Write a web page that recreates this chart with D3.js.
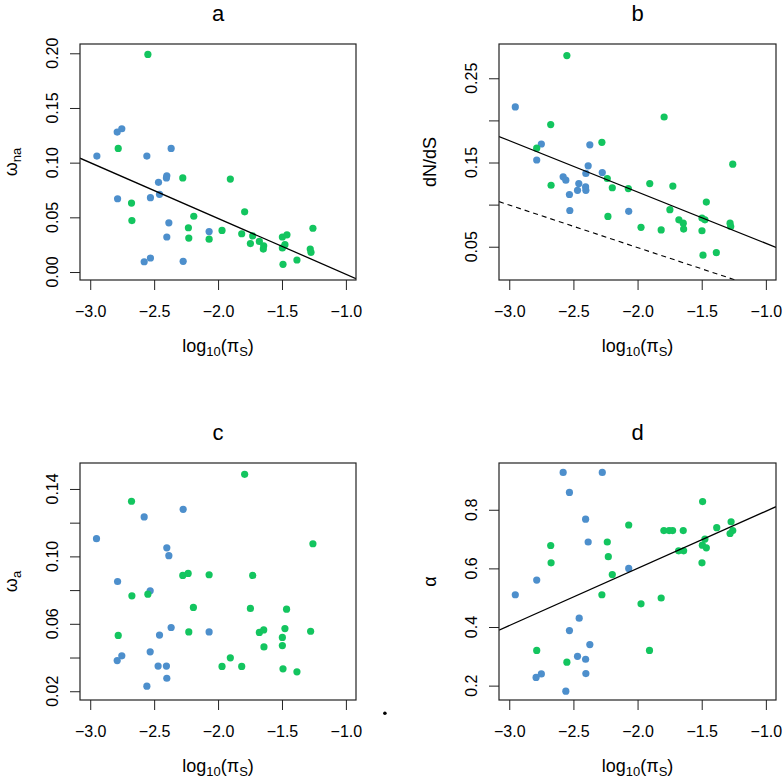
<!DOCTYPE html>
<html>
<head>
  <style>
    body { margin: 0; background: #fff; }
    text { font-family: "Liberation Sans", Arial, Helvetica, sans-serif; fill: #000; }
  </style>
</head>
<body>
  <svg id="chart" width="784" height="778"></svg>
  <script src="https://d3js.org/d3.v7.min.js"></script>
  <script>
    // values: [log10(piS), y]
    const aBlue = [[-2.948,0.106],[-2.789,0.128],[-2.753,0.131],[-2.557,0.106],[-2.786,0.067],[-2.529,0.068],
      [-2.466,0.082],[-2.458,0.071],[-2.401,0.088],[-2.404,0.086],[-2.367,0.113],[-2.385,0.045],[-2.401,0.032],
      [-2.578,0.0094],[-2.529,0.0128],[-2.273,0.0098],[-2.070,0.037]];
    const aGreen = [[-2.549,0.199],[-2.781,0.113],[-2.677,0.063],[-2.674,0.047],[-2.276,0.086],[-1.904,0.085],
      [-2.190,0.051],[-2.232,0.0405],[-2.229,0.031],[-2.070,0.030],[-1.969,0.038],[-1.792,0.055],[-1.815,0.035],
      [-1.747,0.026],[-1.729,0.033],[-1.677,0.028],[-1.643,0.024],[-1.646,0.021],[-1.497,0.032],[-1.461,0.034],
      [-1.477,0.025],[-1.497,0.022],[-1.492,0.007],[-1.383,0.011],[-1.258,0.040],[-1.279,0.021],[-1.273,0.018]];

    const bBlue = [[-2.953,0.216],[-2.750,0.172],[-2.786,0.153],[-2.580,0.133],[-2.559,0.129],[-2.531,0.112],
      [-2.528,0.093],[-2.458,0.125],[-2.468,0.117],[-2.405,0.121],[-2.403,0.117],[-2.403,0.137],[-2.385,0.146],
      [-2.372,0.171],[-2.275,0.138],[-2.069,0.092]];
    const bGreen = [[-2.551,0.277],[-2.677,0.195],[-2.786,0.167],[-2.674,0.123],[-2.278,0.174],[-2.236,0.131],
      [-2.197,0.120],[-2.231,0.086],[-2.072,0.119],[-1.905,0.125],[-1.793,0.204],[-1.725,0.122],[-1.973,0.073],
      [-1.816,0.070],[-1.748,0.094],[-1.678,0.082],[-1.644,0.078],[-1.641,0.071],[-1.498,0.084],[-1.475,0.082],
      [-1.464,0.103],[-1.498,0.069],[-1.490,0.040],[-1.386,0.043],[-1.258,0.148],[-1.279,0.078],[-1.274,0.074]];

    const cBlue = [[-2.951,0.1105],[-2.578,0.1234],[-2.273,0.1279],[-2.401,0.1051],[-2.385,0.1004],[-2.786,0.0851],
      [-2.531,0.0796],[-2.367,0.0578],[-2.458,0.0533],[-2.070,0.0552],[-2.753,0.041],[-2.789,0.0382],[-2.531,0.0434],
      [-2.469,0.0349],[-2.404,0.0349],[-2.401,0.0277],[-2.557,0.023]];
    const cGreen = [[-1.792,0.1487],[-2.677,0.1327],[-1.258,0.1075],[-2.276,0.0887],[-2.234,0.0899],[-2.070,0.0891],
      [-1.729,0.0887],[-2.674,0.0766],[-2.549,0.0776],[-2.193,0.0697],[-1.747,0.0691],[-1.464,0.0687],[-2.229,0.0552],
      [-1.677,0.0549],[-1.643,0.0564],[-1.477,0.0572],[-1.276,0.0556],[-2.781,0.0531],[-1.497,0.0519],[-1.497,0.0471],
      [-1.641,0.0463],[-1.904,0.0398],[-1.969,0.0347],[-1.815,0.0347],[-1.492,0.0333],[-1.383,0.0315]];

    const dBlue = [[-2.580,0.9275],[-2.275,0.9275],[-2.531,0.859],[-2.405,0.768],[-2.385,0.690],[-2.069,0.600],
      [-2.786,0.560],[-2.953,0.510],[-2.455,0.430],[-2.531,0.388],[-2.372,0.340],[-2.468,0.300],[-2.405,0.290],
      [-2.403,0.241],[-2.750,0.240],[-2.791,0.228],[-2.559,0.181]];
    const dGreen = [[-1.493,0.828],[-2.069,0.748],[-1.795,0.729],[-1.754,0.729],[-1.727,0.729],[-1.644,0.729],
      [-1.383,0.739],[-1.271,0.759],[-1.258,0.729],[-1.279,0.719],[-2.677,0.678],[-2.236,0.690],[-2.228,0.640],
      [-2.197,0.579],[-2.674,0.619],[-1.680,0.660],[-1.641,0.660],[-1.495,0.679],[-1.475,0.700],[-1.464,0.670],
      [-1.498,0.619],[-2.278,0.510],[-1.973,0.479],[-1.816,0.499],[-2.786,0.320],[-1.907,0.320],[-2.551,0.280]];

    // fitted lines: [intercept, slope]
    const aFit = [-0.053, -0.051];
    const bFit = [-0.007, -0.061];
    const bFitDashed = [-0.052, -0.0505];
    const dFit = [0.990, 0.195];

    // stray dot below panel c (in panel c units)
    const strayDot = [[-0.695, 0.0069]];

    const xTicks = [-3.0, -2.5, -2.0, -1.5, -1.0];
    const aYTicks = [0.00, 0.05, 0.10, 0.15, 0.20];
    const bYTicks = [0.05, 0.10, 0.15, 0.20, 0.25];
    const bYLabels = [0.05, 0.15, 0.25];
    const cYTicks = [0.02, 0.04, 0.06, 0.08, 0.10, 0.12, 0.14];
    const cYLabels = [0.02, 0.06, 0.10, 0.14];
    const dYTicks = [0.2, 0.4, 0.6, 0.8];

    const blue = "#4d8fcc";
    const green = "#13c55f";

    const svg = d3.select("#chart");
    const xDomain = [-3.08, -0.921];

    const panels = [
      {title: "a", box: [80, 44, 356, 280], yDomain: [-0.0073, 0.2085], yTicks: aYTicks, yLabels: aYTicks, fmt: ".2f",
       blue: aBlue, green: aGreen, fits: [aFit], dashed: [], ylab: ["ω", "na"]},
      {title: "b", box: [499, 44, 776, 280], yDomain: [0.0105, 0.2907], yTicks: bYTicks, yLabels: bYLabels, fmt: ".2f",
       blue: bBlue, green: bGreen, fits: [bFit], dashed: [bFitDashed], ylab: ["dN/dS", null]},
      {title: "c", box: [80, 463, 356, 700], yDomain: [0.0148, 0.1554], yTicks: cYTicks, yLabels: cYLabels, fmt: ".2f",
       blue: cBlue, green: cGreen, fits: [], dashed: [], ylab: ["ω", "a"], extra: strayDot},
      {title: "d", box: [499, 463, 776, 700], yDomain: [0.151, 0.9595], yTicks: dYTicks, yLabels: dYTicks, fmt: ".1f",
       blue: dBlue, green: dGreen, fits: [dFit], dashed: [], ylab: ["α", null]}
    ];

    panels.forEach((p, i) => {
      const [l, t, r, b] = p.box;
      const x = d3.scaleLinear().domain(xDomain).range([l, r]);
      const y = d3.scaleLinear().domain(p.yDomain).range([b, t]);
      const g = svg.append("g");

      const clipId = "clip" + i;
      svg.append("clipPath").attr("id", clipId)
        .append("rect").attr("x", l).attr("y", t).attr("width", r - l).attr("height", b - t);

      // x axis
      const xAxis = g.append("g").attr("transform", `translate(0,${b})`)
        .call(d3.axisBottom(x).tickValues(xTicks).tickSize(10).tickSizeOuter(0).tickPadding(22).tickFormat(d3.format(".1f")));
      xAxis.select(".domain").remove();
      xAxis.selectAll("line").attr("stroke", "#222");
      xAxis.selectAll("text").attr("font-size", 16).attr("dy", 0).attr("y", 37).attr("font-family", null);

      // y axis
      const yAxis = g.append("g").attr("transform", `translate(${l},0)`)
        .call(d3.axisLeft(y).tickValues(p.yTicks).tickSize(10).tickSizeOuter(0).tickFormat(""));
      yAxis.select(".domain").remove();
      yAxis.selectAll("line").attr("stroke", "#222");

      g.selectAll(".ylab").data(p.yLabels).enter().append("text")
        .attr("transform", d => `translate(${l - 22},${y(d)}) rotate(-90)`)
        .attr("text-anchor", "middle")
        .attr("font-size", 16)
        .text(d => d3.format(p.fmt)(d));

      // points
      g.append("g").attr("clip-path", `url(#${clipId})`).selectAll("circle").data(p.blue).enter().append("circle")
        .attr("cx", d => x(d[0])).attr("cy", d => y(d[1])).attr("r", 3.6).attr("fill", blue);
      g.append("g").attr("clip-path", `url(#${clipId})`).selectAll("circle").data(p.green).enter().append("circle")
        .attr("cx", d => x(d[0])).attr("cy", d => y(d[1])).attr("r", 3.6).attr("fill", green);

      // fitted lines
      const fitLine = (f) => xDomain.map(v => [x(v), y(f[0] + f[1] * v)]);
      p.fits.forEach(f => {
        g.append("path").attr("clip-path", `url(#${clipId})`)
          .attr("d", d3.line()(fitLine(f))).attr("stroke", "#000").attr("stroke-width", 1.3).attr("fill", "none");
      });
      p.dashed.forEach(f => {
        g.append("path").attr("clip-path", `url(#${clipId})`)
          .attr("d", d3.line()(fitLine(f))).attr("stroke", "#000").attr("stroke-width", 1.1)
          .attr("stroke-dasharray", "5,4").attr("fill", "none");
      });

      if (p.extra) {
        g.selectAll(".extra").data(p.extra).enter().append("circle")
          .attr("cx", d => x(d[0])).attr("cy", d => y(d[1])).attr("r", 1.8).attr("fill", "#000");
      }

      // box
      g.append("rect").attr("x", l).attr("y", t).attr("width", r - l).attr("height", b - t)
        .attr("fill", "none").attr("stroke", "#222").attr("stroke-width", 1.2);

      // title
      g.append("text").attr("x", (l + r) / 2).attr("y", t - 23)
        .attr("text-anchor", "middle").attr("font-size", 22).text(p.title);

      // x label: log10(piS)
      const xl = g.append("text").attr("x", (l + r) / 2).attr("y", b + 72)
        .attr("text-anchor", "middle").attr("font-size", 18);
      xl.append("tspan").text("log");
      xl.append("tspan").attr("font-size", 13).attr("dy", 4).text("10");
      xl.append("tspan").attr("dy", -4).text("(π");
      xl.append("tspan").attr("font-size", 13).attr("dy", 4).text("S");
      xl.append("tspan").attr("dy", -4).text(")");

      // y label
      const yl = g.append("text")
        .attr("transform", `translate(${l - 63},${(t + b) / 2}) rotate(-90)`)
        .attr("text-anchor", "middle").attr("font-size", 18);
      yl.append("tspan").text(p.ylab[0]);
      if (p.ylab[1]) yl.append("tspan").attr("font-size", 13).attr("dy", 4).text(p.ylab[1]);
    });
  </script>
</body>
</html>
